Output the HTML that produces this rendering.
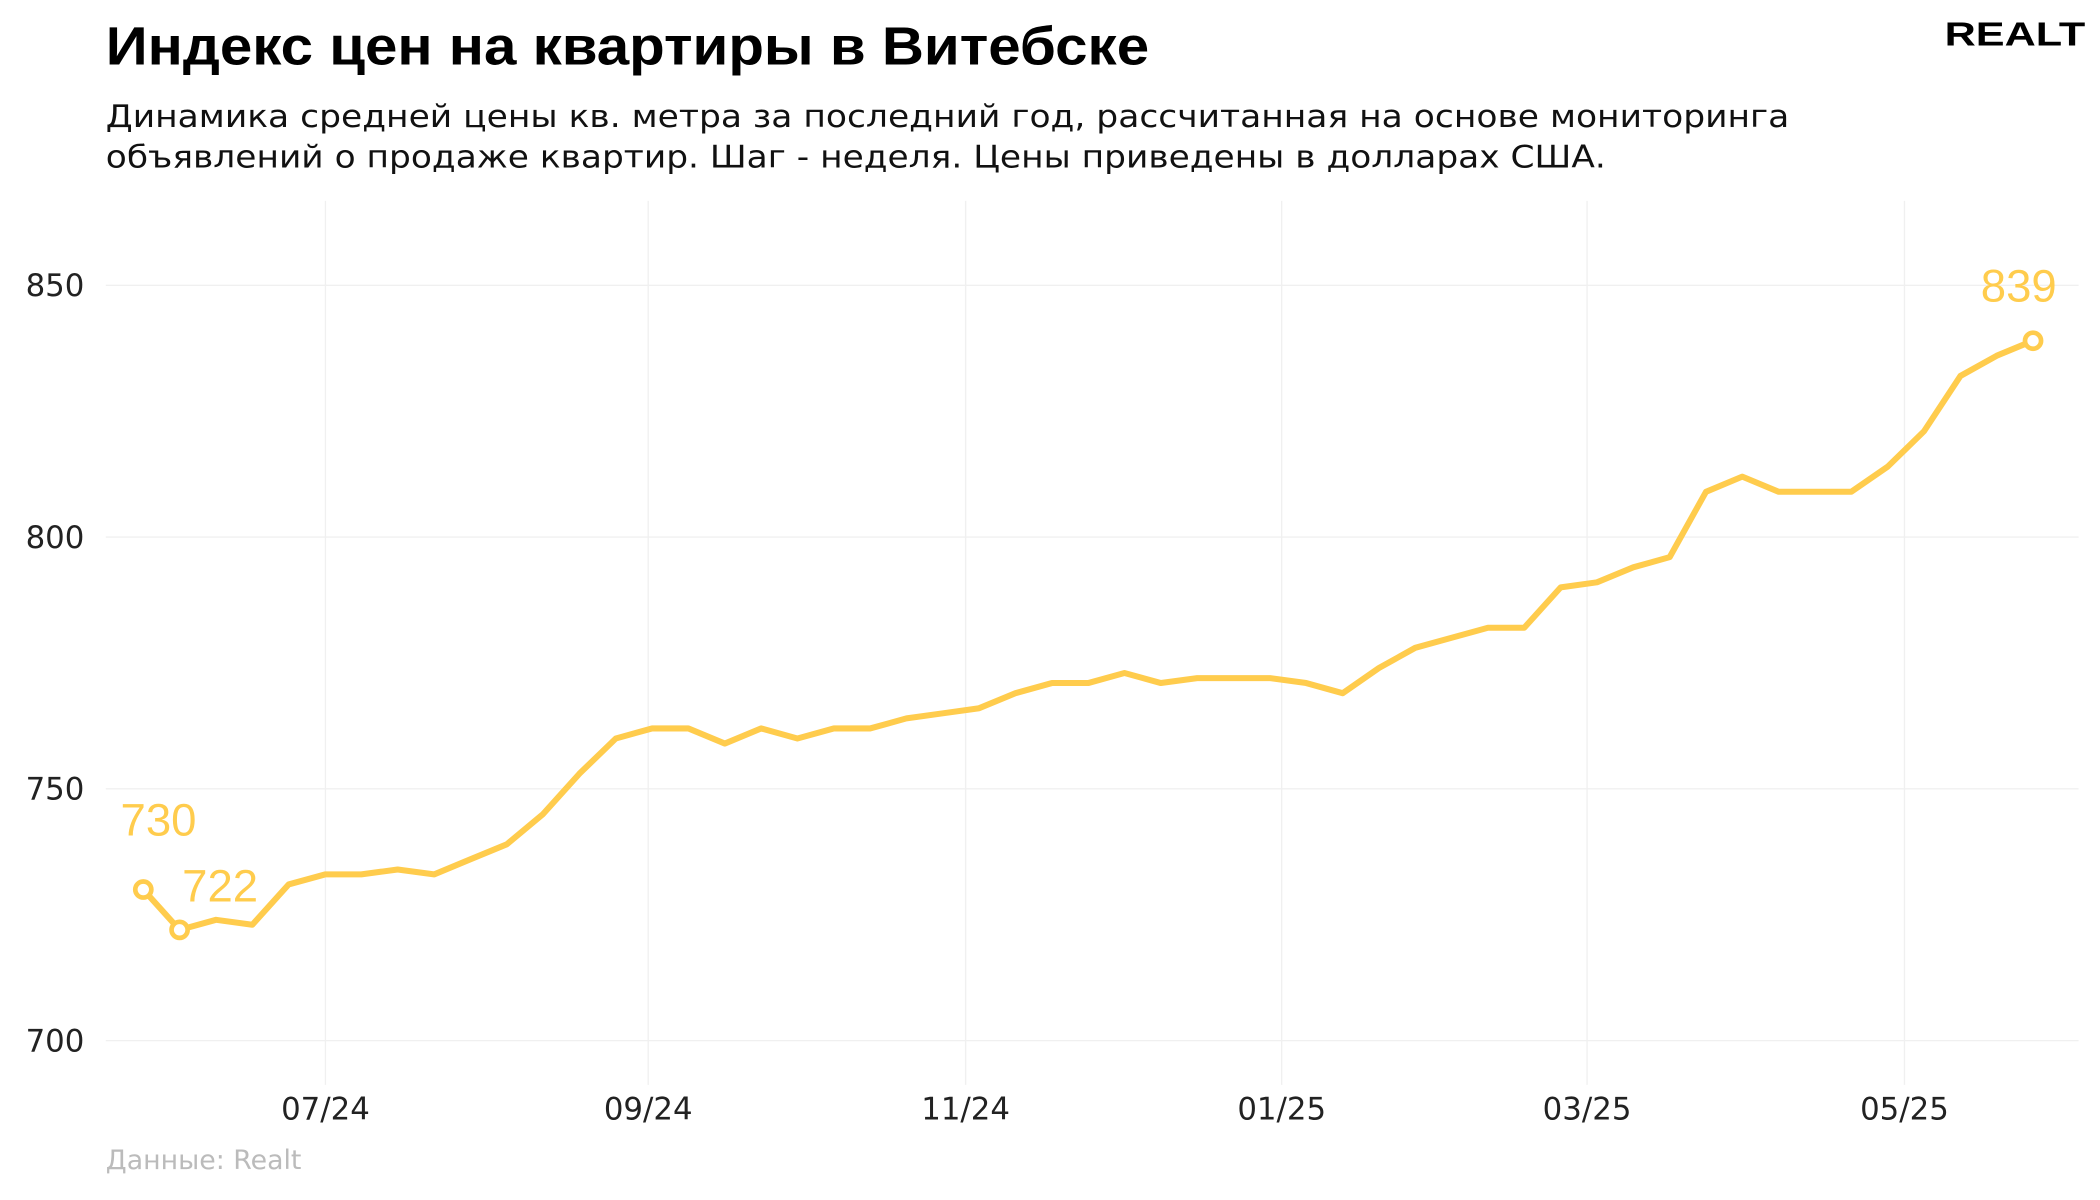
<!DOCTYPE html>
<html><head><meta charset="utf-8"><style>
html,body{margin:0;padding:0;background:#fff;}
svg{display:block;}
</style></head><body>
<svg width="2100" height="1200" viewBox="0 0 1568 896" preserveAspectRatio="none" xmlns="http://www.w3.org/2000/svg">
<rect width="1568" height="896" fill="#fff"/>
<text x="79" y="48" font-family="Liberation Sans, sans-serif" font-weight="bold" font-size="40" fill="#000" textLength="779" lengthAdjust="spacingAndGlyphs">Индекс цен на квартиры в Витебске</text>
<text x="1452" y="34" font-family="Liberation Sans, sans-serif" font-weight="bold" font-size="25" fill="#000" textLength="105" lengthAdjust="spacingAndGlyphs">REALT</text>
<text font-family="DejaVu Sans, sans-serif" font-size="23" fill="#111" textLength="1257" lengthAdjust="spacingAndGlyphs" x="79" y="95">Динамика средней цены кв. метра за последний год, рассчитанная на основе мониторинга</text>
<text font-family="DejaVu Sans, sans-serif" font-size="23" fill="#111" textLength="1120" lengthAdjust="spacingAndGlyphs" x="79" y="125">объявлений о продаже квартир. Шаг - неделя. Цены приведены в долларах США.</text>
<g stroke="#f0f0f0" stroke-width="1">
<line x1="79" x2="1552" y1="213" y2="213"/><line x1="79" x2="1552" y1="401" y2="401"/>
<line x1="79" x2="1552" y1="589" y2="589"/><line x1="79" x2="1552" y1="777" y2="777"/>
<line x1="243" x2="243" y1="150" y2="810"/><line x1="484" x2="484" y1="150" y2="810"/>
<line x1="721" x2="721" y1="150" y2="810"/><line x1="957" x2="957" y1="150" y2="810"/>
<line x1="1185" x2="1185" y1="150" y2="810"/><line x1="1422" x2="1422" y1="150" y2="810"/>
</g>
<g font-family="DejaVu Sans, sans-serif" font-size="23" fill="#222" text-anchor="end">
<text x="63" y="221">850</text><text x="63" y="409">800</text><text x="63" y="597">750</text><text x="63" y="785">700</text>
</g>
<g font-family="DejaVu Sans, sans-serif" font-size="23" fill="#222" text-anchor="middle">
<text x="243" y="836">07/24</text><text x="484" y="836">09/24</text><text x="721" y="836">11/24</text>
<text x="957" y="836">01/25</text><text x="1185" y="836">03/25</text><text x="1422" y="836">05/25</text>
</g>
<text x="79" y="873" font-family="DejaVu Sans, sans-serif" font-size="20" fill="#bbb">Данные: Realt</text>
<polyline id="p" fill="none" stroke="#FFCC4D" stroke-width="4.5" stroke-linejoin="round" points=""/>
<circle cx="107" cy="664.2" r="6" fill="#fff" stroke="#FFCC4D" stroke-width="3.5"/>
<circle cx="134.1" cy="694.3" r="6" fill="#fff" stroke="#FFCC4D" stroke-width="3.5"/>
<circle cx="1518" cy="254.4" r="6" fill="#fff" stroke="#FFCC4D" stroke-width="3.5"/>
<g font-family="Liberation Sans, sans-serif" font-size="34" fill="#FFCC4D">
<text x="90" y="624">730</text><text x="136" y="673">722</text><text x="1479" y="225">839</text>
</g>
<script>
var v=[730,722,724,723,731,733,733,734,733,736,739,745,753,760,762,762,759,762,760,762,762,764,765,766,769,771,771,773,771,772,772,772,771,769,774,778,780,782,782,790,791,794,796,809,812,809,809,809,814,821,832,836,839];
var s=v.map(function(y,i){return (107+i*27.135).toFixed(1)+','+(777-(y-700)*3.76).toFixed(1);}).join(' ');
document.getElementById('p').setAttribute('points',s);
</script>
</svg>
</body></html>
